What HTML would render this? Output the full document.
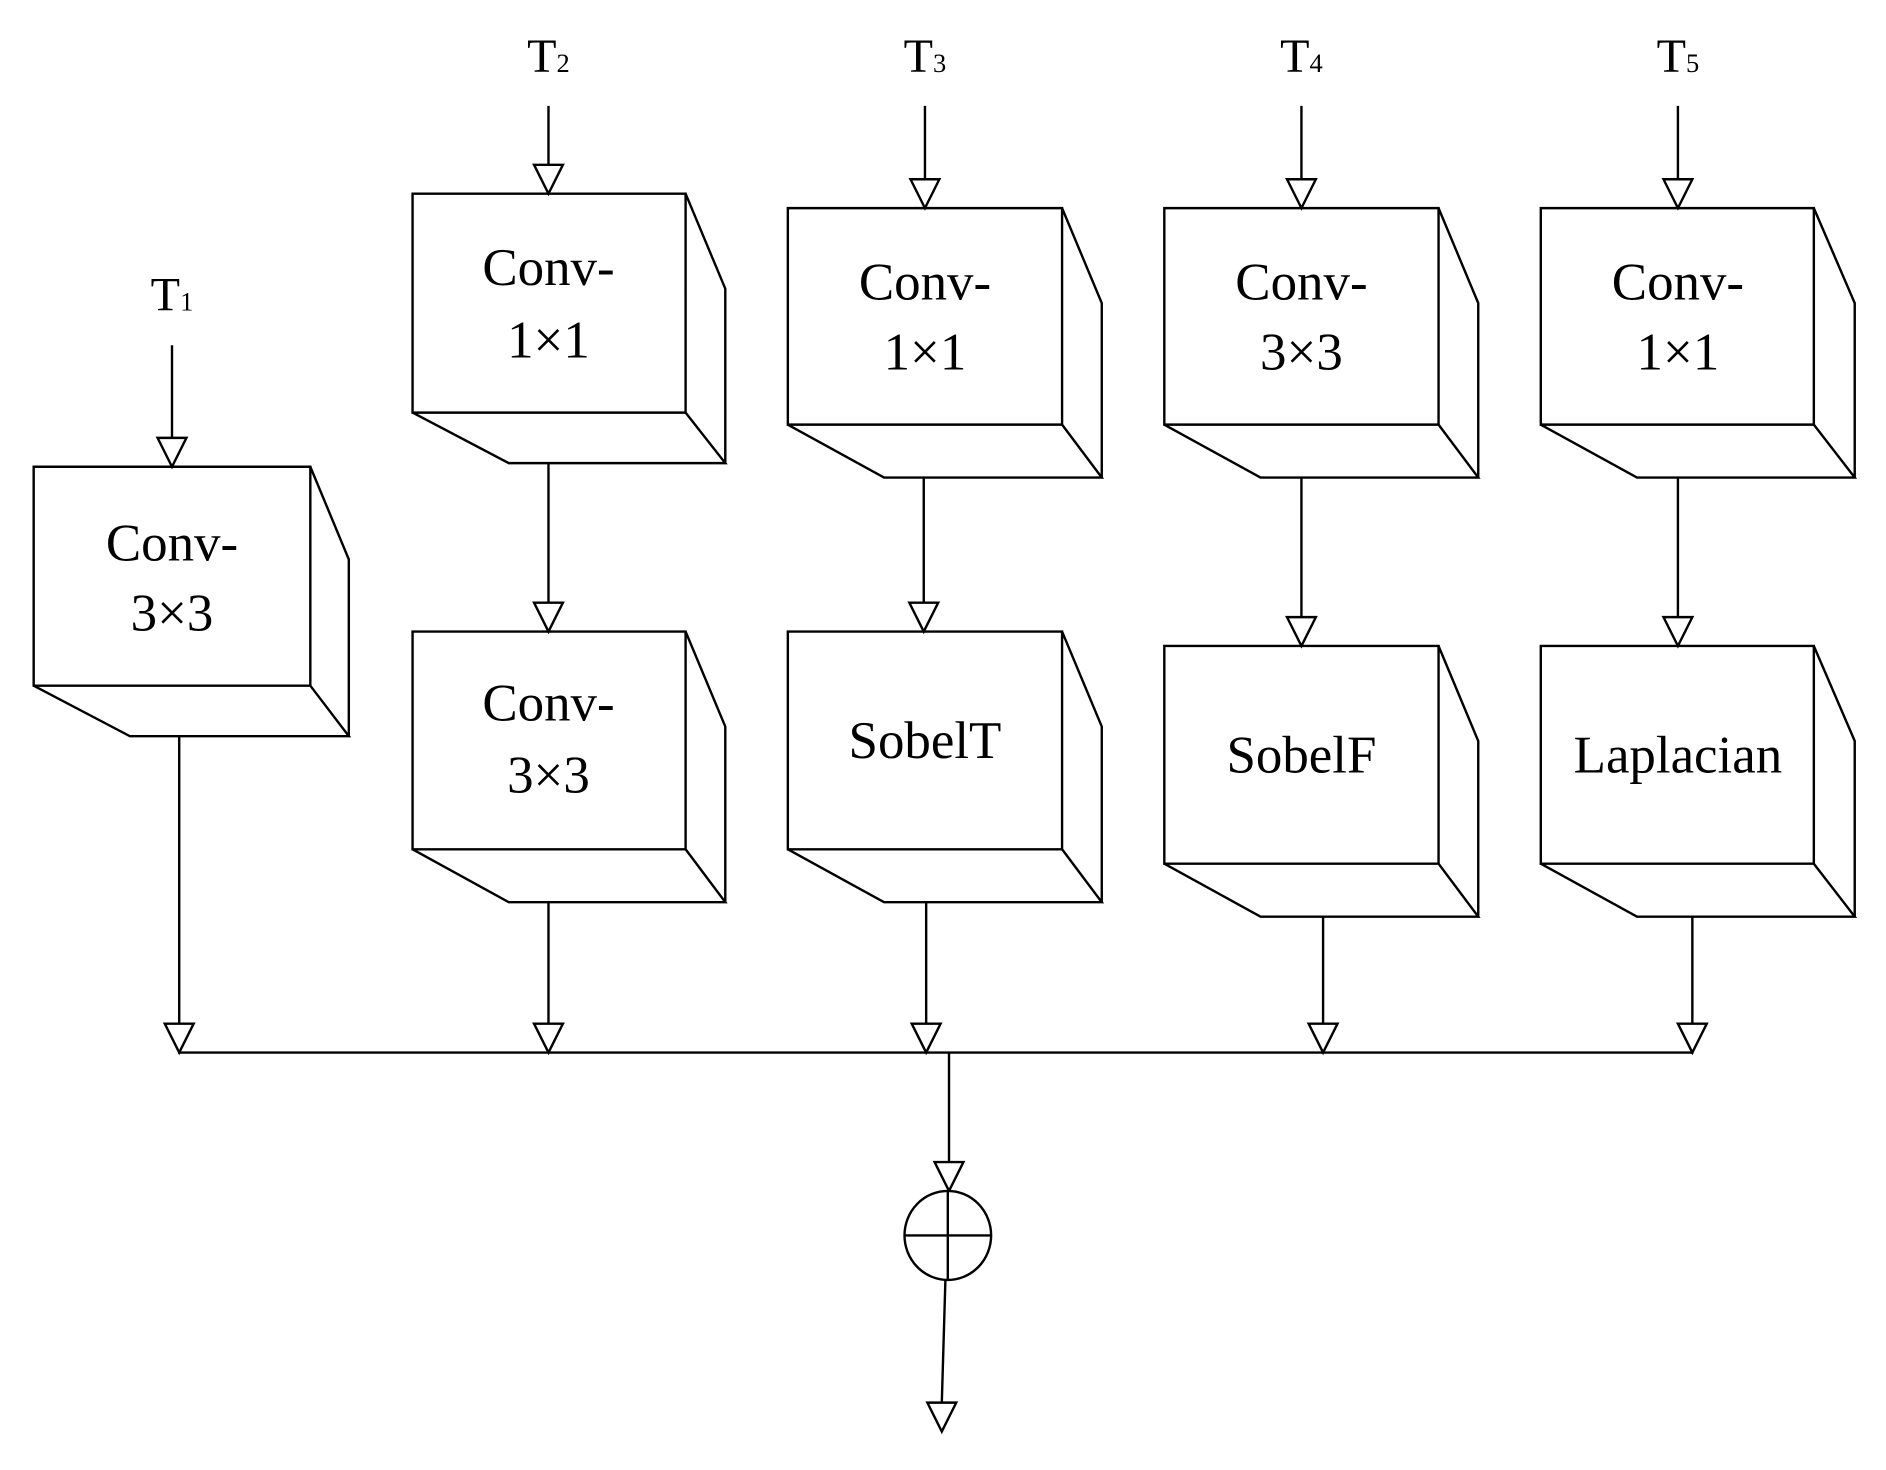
<!DOCTYPE html>
<html><head><meta charset="utf-8"><style>html,body{margin:0;padding:0;background:#fff}svg{display:block}</style></head>
<body>
<svg width="1886" height="1470" viewBox="0 0 1568 1222" preserveAspectRatio="none" xmlns="http://www.w3.org/2000/svg">
<defs>
<marker id="a" markerWidth="26" markerHeight="26" refX="12" refY="24" orient="auto" markerUnits="userSpaceOnUse" viewBox="0 0 26 26">
<path d="M1,1 L23,1 L12,24 Z" fill="#fff" stroke="#000" stroke-width="1.6" transform="rotate(-90 12 12)"/>
</marker>
</defs>
<g stroke="#000" stroke-width="2" fill="none">
<!-- cubes -->
<g id="cubes">
<path d="M28,388H258V570H28Z M28,570L108,612H290L258,570 M258,388L290,465V612"/>
<path d="M343,161H570V343H343Z M343,343L423,385H603L570,343 M570,161L603,240V385"/>
<path d="M655,173H883V353H655Z M655,353L735,397H916L883,353 M883,173L916,252V397"/>
<path d="M968,173H1196V353H968Z M968,353L1048,397H1229L1196,353 M1196,173L1229,252V397"/>
<path d="M1281,173H1508V353H1281Z M1281,353L1361,397H1542L1508,353 M1508,173L1542,252V397"/>
<path d="M343,525H570V706H343Z M343,706L423,750H603L570,706 M570,525L603,604V750"/>
<path d="M655,525H883V706H655Z M655,706L735,750H916L883,706 M883,525L916,604V750"/>
<path d="M968,537H1196V718H968Z M968,718L1048,762H1229L1196,718 M1196,537L1229,616V762"/>
<path d="M1281,537H1508V718H1281Z M1281,718L1361,762H1542L1508,718 M1508,537L1542,616V762"/>
</g>
</g>
<g stroke="#000" stroke-width="2" fill="#fff">
<line x1="143" y1="287" x2="143" y2="364"/><path d="M131,364H155L143,388Z"/>
<line x1="456" y1="88" x2="456" y2="137"/><path d="M444,137H468L456,161Z"/>
<line x1="769" y1="88" x2="769" y2="149"/><path d="M757,149H781L769,173Z"/>
<line x1="1082" y1="88" x2="1082" y2="149"/><path d="M1070,149H1094L1082,173Z"/>
<line x1="1395" y1="88" x2="1395" y2="149"/><path d="M1383,149H1407L1395,173Z"/>
<line x1="456" y1="385" x2="456" y2="501"/><path d="M444,501H468L456,525Z"/>
<line x1="768" y1="397" x2="768" y2="501"/><path d="M756,501H780L768,525Z"/>
<line x1="1082" y1="397" x2="1082" y2="513"/><path d="M1070,513H1094L1082,537Z"/>
<line x1="1395" y1="397" x2="1395" y2="513"/><path d="M1383,513H1407L1395,537Z"/>
<line x1="149" y1="612" x2="149" y2="851"/><path d="M137,851H161L149,875Z"/>
<line x1="456" y1="750" x2="456" y2="851"/><path d="M444,851H468L456,875Z"/>
<line x1="770" y1="750" x2="770" y2="851"/><path d="M758,851H782L770,875Z"/>
<line x1="1100" y1="762" x2="1100" y2="851"/><path d="M1088,851H1112L1100,875Z"/>
<line x1="1407" y1="762" x2="1407" y2="851"/><path d="M1395,851H1419L1407,875Z"/>
<line x1="148" y1="875" x2="1408" y2="875"/>
<line x1="789" y1="875" x2="789" y2="966"/><path d="M777,966H801L789,990Z"/>
<ellipse cx="788" cy="1027" rx="36" ry="37"/>
<line x1="752" y1="1027" x2="824" y2="1027"/><line x1="788" y1="990" x2="788" y2="1064"/>
<line x1="786" y1="1064" x2="783" y2="1166"/><path d="M771,1166H795L783,1190Z"/>
</g>
<g font-family="Liberation Serif, serif" fill="#000" text-anchor="middle">
<g font-size="40">
<text x="143" y="258">T<tspan font-size="22">1</tspan></text>
<text x="456" y="60">T<tspan font-size="22">2</tspan></text>
<text x="769" y="60">T<tspan font-size="22">3</tspan></text>
<text x="1082" y="60">T<tspan font-size="22">4</tspan></text>
<text x="1395" y="60">T<tspan font-size="22">5</tspan></text>
</g>
<g font-size="44">
<text x="143" y="466">Conv-</text><text x="143" y="524">3×3</text>
<text x="456" y="237">Conv-</text><text x="456" y="297">1×1</text>
<text x="769" y="249">Conv-</text><text x="769" y="307">1×1</text>
<text x="1082" y="249">Conv-</text><text x="1082" y="307">3×3</text>
<text x="1395" y="249">Conv-</text><text x="1395" y="307">1×1</text>
<text x="456" y="599">Conv-</text><text x="456" y="659">3×3</text>
<text x="769" y="630">SobelT</text>
<text x="1082" y="642">SobelF</text>
<text x="1395" y="642">Laplacian</text>
</g>
</g>
</svg>
</body></html>
